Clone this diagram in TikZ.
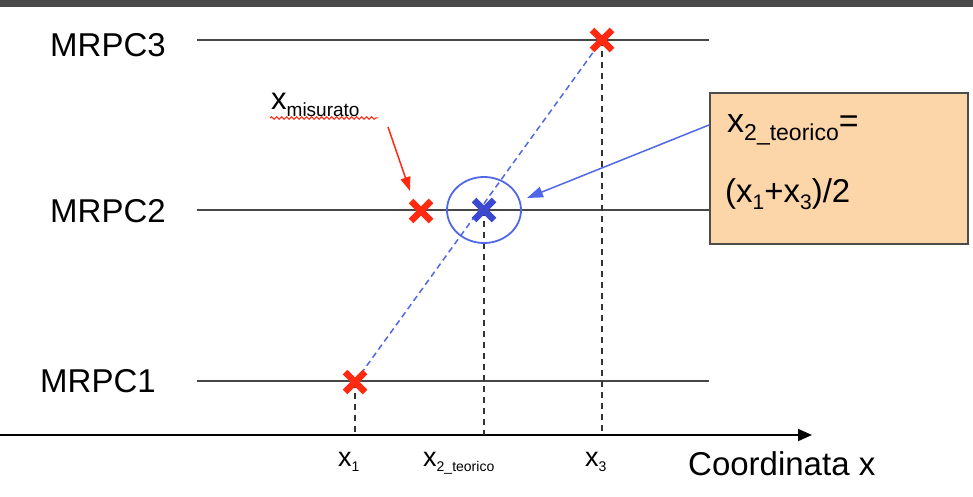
\documentclass[tikz,border=0pt]{standalone}
\usepackage{fontspec}
\setmainfont{Liberation Sans}
\usetikzlibrary{arrows.meta,decorations.pathmorphing}
\definecolor{barcol}{HTML}{4A4A4A}
\definecolor{xred}{HTML}{FF2A10}
\definecolor{xblue}{HTML}{3C48D0}
\definecolor{lblue}{HTML}{5068E8}
\definecolor{boxfill}{HTML}{FCD5A8}
\newcommand{\fs}[1]{\fontsize{#1}{#1}\selectfont}
\newcommand{\mysub}[2]{\raisebox{-0.22em}{\fs{#1}#2}}
\tikzset{
  det/.style={draw=black!72, line width=2.4pt},
  vdash/.style={draw=black!80, line width=1.8pt, dash pattern=on 6pt off 5pt},
  lbl/.style={anchor=base west, inner sep=0pt, font=\fs{33}},
  axlbl/.style={anchor=base west, inner sep=0pt, font=\fs{27}},
  pics/redx/.style={code={\draw[xred, line width=6.5pt] (-10,-10)--(10,10) (-10,10)--(10,-10);}},
  pics/bluex/.style={code={\draw[xblue, line width=6.5pt] (-10,-10)--(10,10) (-10,10)--(10,-10);}},
}
\begin{document}
\begin{tikzpicture}[x=1pt,y=-1pt]
\useasboundingbox (0,0) rectangle (973,497);
\fill[barcol] (0,0) rectangle (973,7);
% detector planes
\coordinate (l3a) at (197,40);  \coordinate (l3b) at (709,40);
\coordinate (l2a) at (197,210); \coordinate (l2b) at (709,210);
\coordinate (l1a) at (197,381); \coordinate (l1b) at (709,381);
\draw[det] (l3a) -- (l3b);
\draw[det] (l2a) -- (l2b);
\draw[det] (l1a) -- (l1b);
\node[lbl] (m3) at (50,57) {MRPC3};
\node[lbl] (m2) at (50,222) {MRPC2};
\node[lbl] (m1) at (40,392) {MRPC1};
% hits
\coordinate (c3) at (602,40);
\coordinate (c2m) at (421,211);
\coordinate (c1) at (355,382);
\coordinate (c2t) at (484,210);
% axis
\coordinate (axL) at (0,435);
\coordinate (axR) at (812,435);
\draw[line width=1.8pt, -{Triangle[length=14pt,width=12pt]}] (axL) -- (axR);
\coordinate (f1) at (355,435);
\coordinate (f2) at (484,435);
\coordinate (f3) at (602,435);
\draw[vdash] (c1) -- (f1);
\draw[vdash] (c2t) -- (f2);
\draw[vdash] (c3) -- (f3);
% track
\draw[lblue, line width=1.5pt, dash pattern=on 6pt off 4pt] (c1) -- (c3);
% ellipse
\draw[lblue, line width=1.8pt] (c2t) ellipse [x radius=37, y radius=33];
\pic at (c3) {redx};
\pic at (c2m) {redx};
\pic at (c1) {redx};
\pic at (c2t) {bluex};
% axis labels
\node[axlbl] (ax1) at (338,466) {x\mysub{14}{1}};
\node[axlbl] (ax2) at (423,466) {x\mysub{14}{2\_teorico}};
\node[axlbl] (ax3) at (585,466) {x\mysub{14}{3}};
\node[lbl, font=\fs{33}] (cx) at (688,475) {Coordinata x};
% box
\node[draw=black!70, line width=2.2pt, fill=boxfill, minimum width=258pt, minimum height=151pt, inner sep=0pt] (tb) at (839,168.5) {};
\node[lbl, font=\fs{34}] (t1) at (727,133) {x\mysub{23}{2\_teorico}=};
\node[lbl, font=\fs{33}] (t2) at (725,202) {(x\mysub{21}{1}+x\mysub{21}{3})/2};
% blue arrow
\coordinate (ba) at (709,125);
\coordinate (bb) at (527,198);
\draw[lblue, line width=1.5pt, -{Triangle[length=16pt,width=11pt]}] (ba) -- (bb);
% x misurato
\node[lbl, font=\fs{31}] (xm) at (271,110) {x\mysub{19}{misurato}};
\coordinate (wa) at (270,118);
\coordinate (wb) at (378,118);
\draw[xred, line width=1pt, decorate, decoration={snake, amplitude=1.3pt, segment length=5pt}] (wa) -- (wb);
\coordinate (ra) at (388,127);
\coordinate (rb) at (410,191);
\draw[xred, line width=1.5pt, -{Triangle[length=14pt,width=10pt]}] (ra) -- (rb);
\end{tikzpicture}
\end{document}
